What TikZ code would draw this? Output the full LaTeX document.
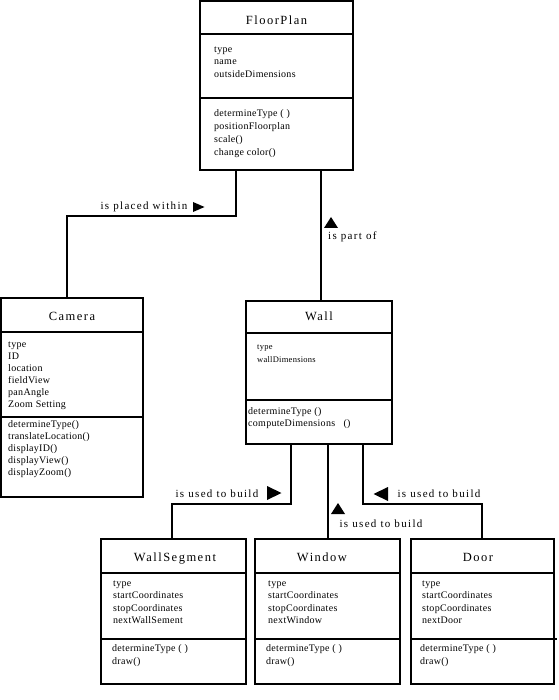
\documentclass[tikz,border=0pt]{standalone}
\usepackage{fontspec}
\setmainfont{Liberation Serif}
\begin{document}
\begin{tikzpicture}[x=1pt,y=-1pt,
  box/.style={draw, line width=1.5pt, inner sep=0pt, outer sep=0pt, anchor=north west},
  div/.style={line width=1.5pt},
  conn/.style={line width=1.6pt},
  ttl/.style={anchor=base, inner sep=0pt, font=\fontsize{12.5}{15}\selectfont\addfontfeature{LetterSpace=12}},
  cmp/.style={anchor=north west, inner sep=0pt, align=left, font=\fontsize{10}{12.5}\selectfont\addfontfeature{LetterSpace=3}},
  cmpc/.style={anchor=north west, inner sep=0pt, align=left, font=\fontsize{10}{12}\selectfont\addfontfeature{LetterSpace=3}},
  cmps/.style={anchor=north west, inner sep=0pt, align=left, font=\fontsize{8.5}{12.5}\selectfont\addfontfeature{LetterSpace=3}},
  cmpm/.style={anchor=north west, inner sep=0pt, align=left, font=\fontsize{10}{13}\selectfont\addfontfeature{LetterSpace=3}},
  cmpw/.style={anchor=north west, inner sep=0pt, align=left, font=\fontsize{10}{11.5}\selectfont\addfontfeature{LetterSpace=3}},
  lbl/.style={anchor=base, inner sep=0pt, font=\fontsize{11}{13}\selectfont\addfontfeature{LetterSpace=12}}]
\useasboundingbox (0,0) rectangle (558,700);

% ---------- class boxes ----------
\node[box, minimum width=153pt, minimum height=169pt] (fp) at (200,1) {};
\node[box, minimum width=142pt, minimum height=199pt] (cam) at (1,298) {};
\node[box, minimum width=146pt, minimum height=143pt] (wall) at (246,301) {};
\node[box, minimum width=145pt, minimum height=145pt] (ws) at (101,539) {};
\node[box, minimum width=145pt, minimum height=145pt] (win) at (255,539) {};
\node[box, minimum width=143pt, minimum height=145pt] (door) at (411,539) {};

% compartment dividers
\draw[div] (200,34) -- (353,34);  \draw[div] (200,98) -- (353,98);
\draw[div] (1,332) -- (143,332);  \draw[div] (1,417) -- (143,417);
\draw[div] (246,333) -- (392,333); \draw[div] (246,400) -- (392,400);
\draw[div] (101,573) -- (246,573); \draw[div] (101,639) -- (246,639);
\draw[div] (255,573) -- (400,573); \draw[div] (255,639) -- (400,639);
\draw[div] (411,573) -- (554,573); \draw[div] (411,639) -- (557,639);

% titles
\node[ttl] (fpt) at (276.5,25) {FloorPlan};
\node[ttl] (camt) at (72,320) {Camera};
\node[ttl] (wallt) at (319,320) {Wall};
\node[ttl] (wst) at (175,561) {WallSegment};
\node[ttl] (wint) at (322,561) {Window};
\node[ttl] (doort) at (478,561) {Door};

% attributes and methods
\node[cmp] (fpa) at (214,43.5) {\strut type\\name\\outsideDimensions};
\node[cmpm] (fpm) at (214,107.5) {\strut determineType ( )\\positionFloorplan\\scale()\\change color()};

\node[cmpc] (cama) at (8,339) {\strut type\\ID\\location\\fieldView\\panAngle\\Zoom Setting};
\node[cmpc] (camm) at (8,419) {\strut determineType()\\translateLocation()\\displayID()\\displayView()\\displayZoom()};

\node[cmps] (walla) at (257,340.75) {\strut type\\wallDimensions};
\node[cmpw] (wallm) at (248,406.5) {\strut determineType ()\\computeDimensions\ \ \ ()};

\node[cmp] (wsa) at (113,577.25) {\strut type\\startCoordinates\\stopCoordinates\\nextWallSement};
\node[cmpm] (wsm) at (112,642) {\strut determineType ( )\\draw()};

\node[cmp] (wina) at (268,577.25) {\strut type\\startCoordinates\\stopCoordinates\\nextWindow};
\node[cmpm] (winm) at (266,642) {\strut determineType ( )\\draw()};

\node[cmp] (doora) at (422,577.25) {\strut type\\startCoordinates\\stopCoordinates\\nextDoor};
\node[cmpm] (doorm) at (420,642) {\strut determineType ( )\\draw()};

% ---------- connectors ----------
\coordinate (pw1) at (236,216);
\coordinate (pw2) at (67,216);
\draw[conn] (fp.south -| pw1) -- (pw1) -- (pw2) -- (cam.north -| pw2);

\coordinate (po) at (321,250);
\draw[conn] (fp.south -| po) -- (wall.north -| po);

\coordinate (u1) at (291,504);
\coordinate (u2) at (172,504);
\draw[conn] (wall.south -| u1) -- (u1) -- (u2) -- (ws.north -| u2);

\coordinate (u3) at (328,520);
\draw[conn] (wall.south -| u3) -- (win.north -| u3);

\coordinate (u4) at (363,504);
\coordinate (u5) at (482,504);
\draw[conn] (wall.south -| u4) -- (u4) -- (u5) -- (door.north -| u5);

% ---------- labels and direction triangles ----------
\node[lbl] (l1) at (144,209.5) {is placed within};
\fill (193,202) -- (204.5,207) -- (193,212) -- cycle;

\node[lbl, anchor=base west] (l2) at (328,240) {is part of};
\fill (324,228) -- (331,217) -- (338,228) -- cycle;

\node[lbl] (l3) at (217,497) {is used to build};
\fill (267,486) -- (281.5,493) -- (267,500) -- cycle;

\node[lbl] (l4) at (381,527) {is used to build};
\fill (331,514) -- (338,503) -- (345,514) -- cycle;

\node[lbl] (l5) at (439,497) {is used to build};
\fill (388,487) -- (373.5,494) -- (388,501) -- cycle;

\end{tikzpicture}
\end{document}
